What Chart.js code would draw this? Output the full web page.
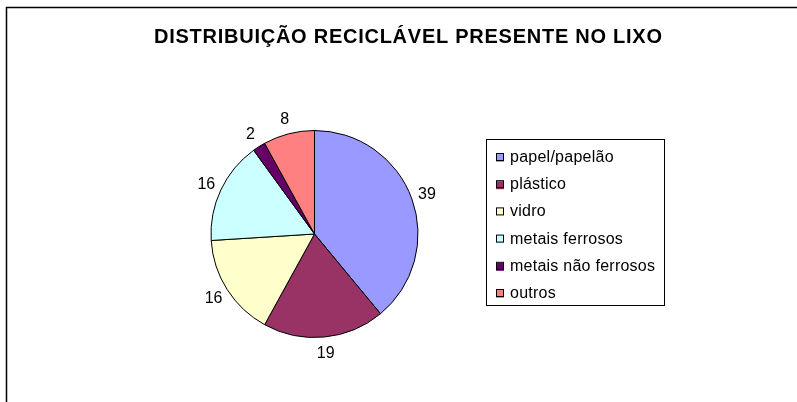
<!DOCTYPE html>
<html>
<head>
<meta charset="utf-8">
<script src="https://cdn.jsdelivr.net/npm/chart.js@4"></script>
<style>
  html, body { margin: 0; padding: 0; background: #fff; }
  #wrap { width: 797px; height: 402px; }
</style>
</head>
<body>
<div id="wrap"><canvas id="c" width="797" height="402"></canvas></div>
<script>
const titleText = "DISTRIBUIÇÃO RECICLÁVEL PRESENTE NO LIXO";
const categories = ["papel/papelão", "plástico", "vidro", "metais ferrosos", "metais não ferrosos", "outros"];
const values = [39, 19, 16, 16, 2, 8];
const colors = ["#9999FF", "#993366", "#FFFFCC", "#CCFFFF", "#660066", "#FF8080"];

const FONT = '"Liberation Sans", Arial, sans-serif';

function fitSpacing(ctx, text, target) {
  ctx.letterSpacing = '0px';
  const w0 = ctx.measureText(text).width;
  return Math.max(0, (target - w0) / (text.length - 1));
}

const framePlugin = {
  id: 'frame',
  beforeDraw(chart) {
    const ctx = chart.ctx;
    ctx.save();
    ctx.fillStyle = '#fff';
    ctx.fillRect(0, 0, chart.width, chart.height);
    ctx.strokeStyle = '#000';
    ctx.lineWidth = 1.5;
    ctx.strokeRect(6.5, 7.5, chart.width + 20, chart.height + 20);
    ctx.fillStyle = '#000';
    ctx.font = 'bold 20px ' + FONT;
    ctx.textAlign = 'left';
    ctx.textBaseline = 'alphabetic';
    const ls = fitSpacing(ctx, titleText, 508);
    ctx.letterSpacing = ls + 'px';
    ctx.fillText(titleText, 154, 43);
    ctx.restore();
  }
};

const labelPlugin = {
  id: 'sliceLabels',
  afterDatasetsDraw(chart) {
    const ctx = chart.ctx;
    const meta = chart.getDatasetMeta(0);
    ctx.save();
    ctx.fillStyle = '#000';
    ctx.font = '16px ' + FONT;
    ctx.textAlign = 'center';
    ctx.textBaseline = 'middle';
    meta.data.forEach((arc, i) => {
      const p = arc.getProps(['x', 'y', 'startAngle', 'endAngle', 'outerRadius'], true);
      const mid = (p.startAngle + p.endAngle) / 2;
      const r = p.outerRadius + 16;
      ctx.fillText(String(chart.data.datasets[0].data[i]), p.x + Math.cos(mid) * r, p.y + Math.sin(mid) * r + 1);
    });
    ctx.restore();
  }
};

const legendPlugin = {
  id: 'boxLegend',
  afterDraw(chart) {
    const ctx = chart.ctx;
    ctx.save();
    ctx.strokeStyle = '#000';
    ctx.lineWidth = 1;
    ctx.strokeRect(486.5, 139.5, 178, 166);
    ctx.font = '16px ' + FONT;
    const ls = fitSpacing(ctx, "metais não ferrosos", 145);
    ctx.letterSpacing = ls + 'px';
    ctx.textAlign = 'left';
    ctx.textBaseline = 'alphabetic';
    chart.data.labels.forEach((lab, i) => {
      const base = 162 + i * 27.2;
      ctx.fillStyle = chart.data.datasets[0].backgroundColor[i];
      ctx.fillRect(496, base - 8, 8, 8);
      ctx.strokeStyle = '#000';
      ctx.strokeRect(496.5, base - 8.5, 7, 7);
      ctx.fillStyle = '#000';
      ctx.fillText(lab, 510, base);
    });
    ctx.restore();
  }
};

new Chart(document.getElementById('c'), {
  type: 'pie',
  data: {
    labels: categories,
    datasets: [{
      data: values,
      backgroundColor: colors,
      borderColor: '#000',
      borderWidth: 1,
      hoverOffset: 0,
      offset: 0
    }]
  },
  options: {
    responsive: false,
    animation: false,
    devicePixelRatio: 1,
    layout: { padding: { left: 210, top: 130, right: 378, bottom: 64 } },
    plugins: {
      legend: { display: false },
      title: { display: false },
      tooltip: { enabled: false }
    }
  },
  plugins: [framePlugin, labelPlugin, legendPlugin]
});
</script>
</body>
</html>
